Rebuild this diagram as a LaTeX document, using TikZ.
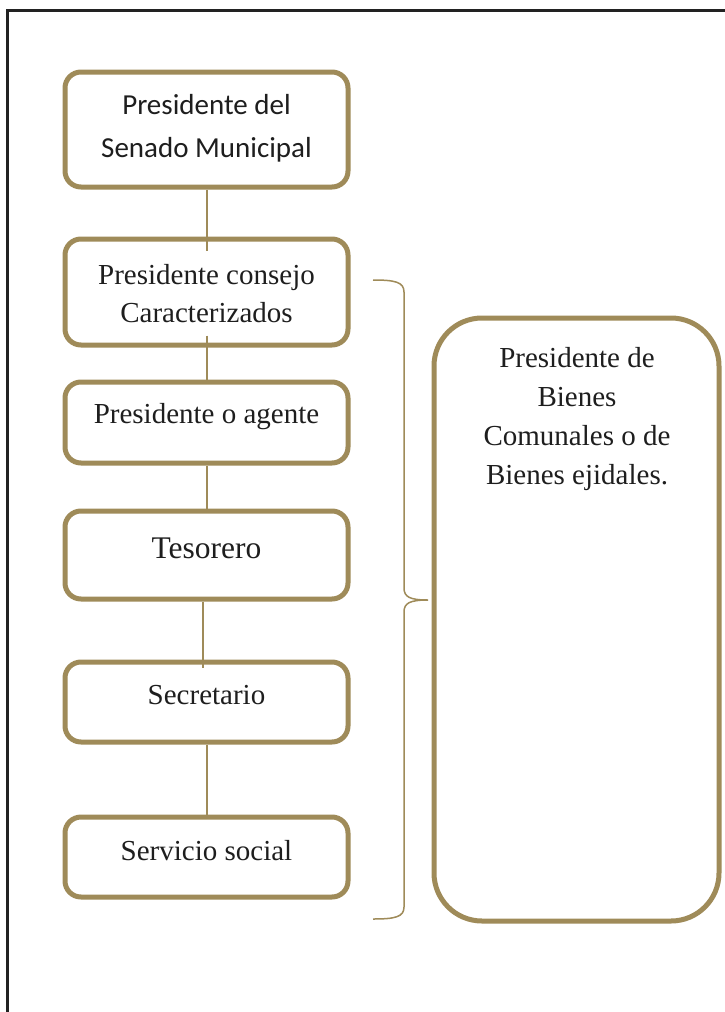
\documentclass[tikz,border=0pt]{standalone}
\usepackage{fontspec}
\setmainfont{Liberation Serif}
\newfontfamily\sansf{Carlito}
\definecolor{gold}{RGB}{159,139,89}
\definecolor{ink}{RGB}{30,30,30}
\definecolor{framecol}{RGB}{34,34,34}
\begin{document}
\begin{tikzpicture}[x=1pt,y=-1pt,
  bx/.style={draw=gold, line width=5pt, rounded corners=16pt, minimum width=283pt, inner sep=0pt, fill=white},
  bigbx/.style={draw=gold, line width=5pt, rounded corners=48pt, minimum width=285pt, minimum height=603pt, inner sep=0pt},
  conn/.style={draw=gold, line width=2pt},
  txt/.style={text=ink, align=center, inner sep=0pt, font=\fontsize{29}{38}\selectfont},
  sanstxt/.style={text=ink, align=center, inner sep=0pt, font=\sansf\fontsize{29}{43}\selectfont}]
\clip (0,0) rectangle (725,1012);
\fill[white] (0,0) rectangle (725,1012);
\draw[framecol, line width=3pt] (7.5,10) rectangle (760,1040);
% boxes
\node[bx, minimum height=115pt] (b1) at (206.5,129.5) {};
\node[bx, minimum height=106pt] (b2) at (206.5,292) {};
\node[bx, minimum height=81pt] (b3) at (206.5,422.5) {};
\node[bx, minimum height=88pt] (b4) at (206.5,555) {};
\node[bx, minimum height=80pt] (b5) at (206.5,702) {};
\node[bx, minimum height=80pt] (b6) at (206.5,857) {};
\node[bigbx] (big) at (576.5,619.5) {};
% connectors
\draw[conn] (b1.south) -- ([yshift=-14pt]b2.north);
\draw[conn] ([yshift=12pt]b2.south) -- (b3.north);
\draw[conn] (b3.south) -- (b4.north);
\draw[conn] ([xshift=-3.5pt]b4.south) -- ([xshift=-3.5pt,yshift=-8pt]b5.north);
\draw[conn] (b5.south) -- (b6.north);
% texts
\node[sanstxt] (t1) at (206.5,128.5) {Presidente del\\Senado Municipal};
\node[txt] (t2) at (206.5,293.5) {Presidente consejo\\Caracterizados};
\node[txt] (t3) at (206.5,417) {Presidente o agente};
\node[txt, font=\fontsize{31.5}{38}\selectfont] (t4) at (206.5,548) {Tesorero};
\node[txt] (t5) at (206.5,695) {Secretario};
\node[txt] (t6) at (206.5,851) {Servicio social};
\node[txt, font=\fontsize{29}{39}\selectfont] (t7) at (577,419) {Presidente de\\Bienes\\Comunales o de\\Bienes ejidales.};
% brace
\coordinate (bt) at (373,280);
\coordinate (bb) at (373,919);
\coordinate (tip) at (428,600);
\draw[gold, line width=1.5pt] (bt) .. controls (395,280) and (404,282) .. (404,292) -- (404,588)
  .. controls (404,597) and (410,600) .. (tip)
  .. controls (410,600) and (404,603) .. (404,612) -- (404,907)
  .. controls (404,917) and (395,919) .. (bb);
\end{tikzpicture}
\end{document}
